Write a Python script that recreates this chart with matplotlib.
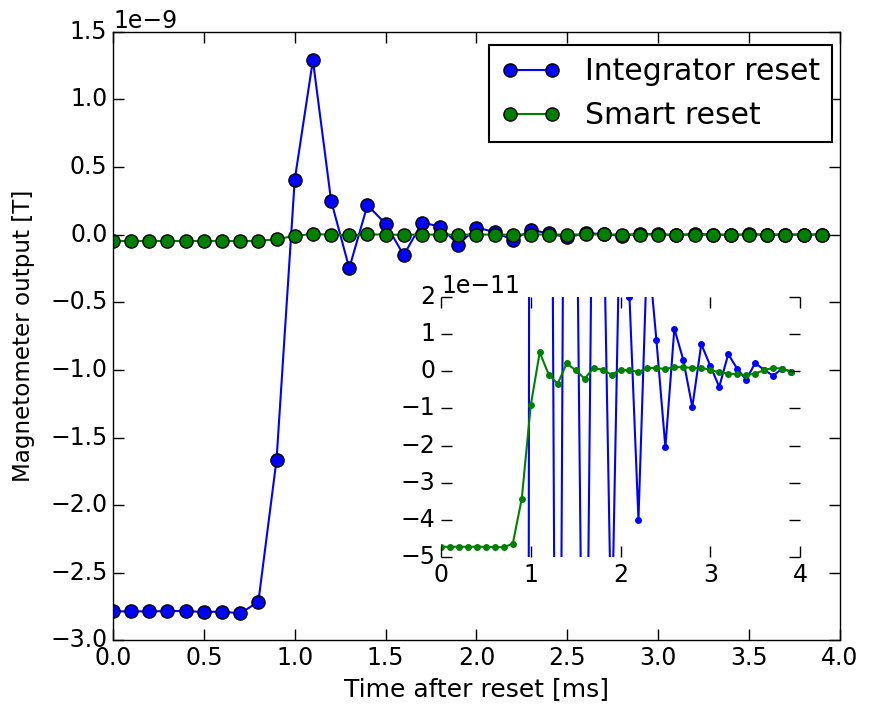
import matplotlib
matplotlib.use("Agg")
import matplotlib as mpl
import matplotlib.pyplot as plt
import numpy as np

mpl.style.use('classic')
plt.rcParams['font.family'] = ['DejaVu Sans']
plt.rcParams['figure.facecolor'] = 'white'
plt.rcParams['savefig.facecolor'] = 'white'

time_ms = [0.0, 0.1, 0.2, 0.3, 0.4, 0.5, 0.6, 0.7, 0.8, 0.9,
           1.0, 1.1, 1.2, 1.3, 1.4, 1.5, 1.6, 1.7, 1.8, 1.9,
           2.0, 2.1, 2.2, 2.3, 2.4, 2.5, 2.6, 2.7, 2.8, 2.9,
           3.0, 3.1, 3.2, 3.3, 3.4, 3.5, 3.6, 3.7, 3.8, 3.9]

# values in units of 1e-9 T
integrator_reset_nT = [-2.785, -2.785, -2.785, -2.783, -2.782, -2.790, -2.786, -2.800, -2.714, -1.663,
                       0.405, 1.290, 0.252, -0.248, 0.218, 0.080, -0.152, 0.089, 0.060, -0.075,
                       0.052, 0.020, -0.040, 0.035, 0.0084, -0.0205, 0.0115, 0.0030, -0.0096, 0.0073,
                       0.0015, -0.0042, 0.0046, 0.0007, -0.0023, 0.0022, 0.0004, -0.0012, 0.0007, -0.0001]

# values in units of 1e-11 T
smart_reset_1e11 = [-4.72, -4.73, -4.72, -4.73, -4.72, -4.73, -4.73, -4.74, -4.64, -3.43,
                    -0.92, 0.51, -0.09, -0.34, 0.21, 0.03, -0.20, 0.09, 0.04, -0.09,
                    0.04, 0.03, -0.02, 0.09, 0.09, 0.06, 0.11, 0.11, 0.09, 0.09,
                    0.04, -0.03, -0.06, -0.08, -0.11, -0.06, 0.03, 0.09, 0.07, -0.01]

t = np.array(time_ms)
integ = np.array(integrator_reset_nT) * 1e-9
smart = np.array(smart_reset_1e11) * 1e-11

fig = plt.figure(figsize=(8.71, 7.11), dpi=100)
ax = fig.add_axes([0.1297, 0.0992, 0.8347, 0.8562])
ax.plot(t, integ, 'b-o', lw=1.5, ms=9.5, mec='k', mew=1, label='Integrator reset')
ax.plot(t, smart, 'g-o', lw=1.5, ms=9.5, mec='k', mew=1, label='Smart reset')
ax.set_xlim(0, 4)
ax.set_ylim(-3e-9, 1.5e-9)
ax.set_xticks(np.arange(0, 4.01, 0.5))
ax.set_yticks(np.arange(-3e-9, 1.51e-9, 0.5e-9))
ax.tick_params(labelsize=17, length=8, width=1)
ax.xaxis.get_offset_text().set_fontsize(17)
ax.yaxis.get_offset_text().set_fontsize(17)
ax.set_xlabel('Time after reset [ms]', fontsize=18)
ax.set_ylabel('Magnetometer output [T]', fontsize=16.6)
ax.yaxis.set_label_coords(-0.107, 0.5)
leg = ax.legend(loc='upper right', bbox_to_anchor=(0.989, 0.978), borderaxespad=0,
                fontsize=21.5, numpoints=2, fancybox=False)
leg.get_frame().set_linewidth(1.5)

ins = fig.add_axes([0.5063, 0.2166, 0.4122, 0.3657])
ins.patch.set_alpha(0)
ins.plot(t, integ, 'b-o', lw=1.5, ms=5, mec='b', mew=0)
ins.plot(t, smart, 'g-o', lw=1.5, ms=5, mec='g', mew=0)
ins.set_xlim(0, 4)
ins.set_ylim(-5e-11, 2e-11)
ins.set_xticks([0, 1, 2, 3, 4])
ins.set_yticks(np.arange(-5e-11, 2.01e-11, 1e-11))
for s in ins.spines.values():
    s.set_visible(False)
ins.tick_params(labelsize=17, length=8, width=1)
ins.yaxis.get_offset_text().set_fontsize(17)

fig.savefig('out.png', dpi=100)
